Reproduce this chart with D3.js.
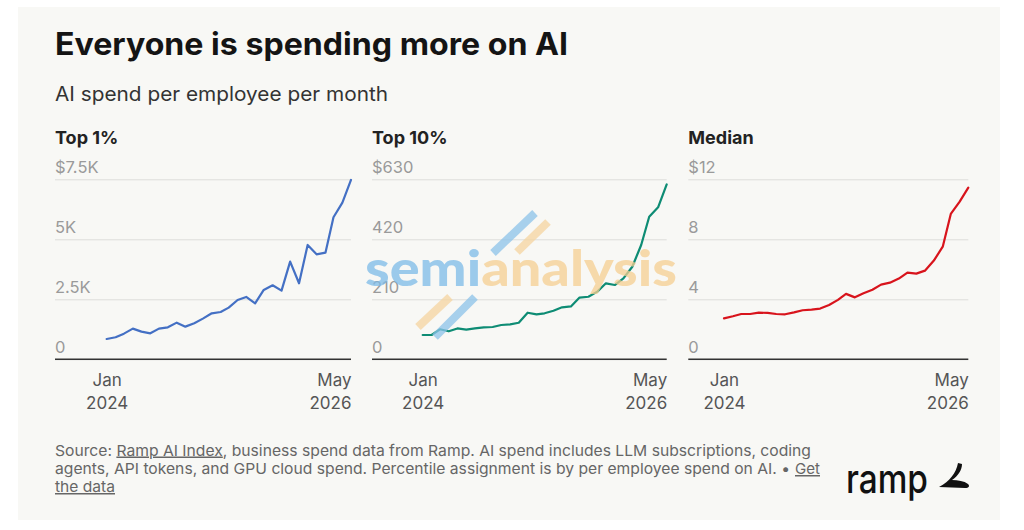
<!DOCTYPE html>
<html>
<head>
<meta charset="utf-8">
<script src="https://cdn.jsdelivr.net/npm/d3@7"></script>
<style>
  html, body { margin: 0; padding: 0; background: #ffffff; }
  svg { display: block; font-family: Inter, "Noto Sans", sans-serif; }
</style>
</head>
<body>
<svg id="chart" width="1024" height="530"></svg>
<script>
// ---------- DATA ----------
const startMonth = new Date(2024, 0, 1);
const endMonth = new Date(2026, 4, 1);
const months = d3.timeMonth.range(startMonth, d3.timeMonth.offset(endMonth, 1)); // Jan 2024 .. May 2026 (29)

const top1Values = [847, 917, 1069, 1278, 1153, 1083, 1278, 1333, 1528, 1361, 1500, 1694, 1917, 1972, 2153,
  2472, 2597, 2333, 2889, 3083, 2861, 4069, 3167, 4764, 4375, 4444, 5917, 6528, 7472];
const top10Values = [85, 85, 105, 98, 108, 104, 108, 112, 113, 120, 122, 128, 163, 157, 161,
  170, 182, 185, 216, 219, 237, 266, 260, 283, 324, 400, 499, 532, 612];
const medianValues = [2.73, 2.87, 3.02, 3.02, 3.11, 3.09, 3.02, 3.00, 3.13, 3.27, 3.31, 3.38, 3.62, 3.96, 4.36,
  4.13, 4.40, 4.64, 4.98, 5.11, 5.38, 5.78, 5.71, 5.91, 6.58, 7.51, 9.69, 10.51, 11.44];

const top1Ticks = [0, 2500, 5000, 7500];
const top1TickLabels = ["0", "2.5K", "5K", "$7.5K"];
const top10Ticks = [0, 210, 420, 630];
const top10TickLabels = ["0", "210", "420", "$630"];
const medianTicks = [0, 4, 8, 12];
const medianTickLabels = ["0", "4", "8", "$12"];

const panelTitles = ["Top 1%", "Top 10%", "Median"];
const xStartLabel = ["Jan", "2024"];
const xEndLabel = ["May", "2026"];

// ---------- LAYOUT ----------
const svg = d3.select("#chart");
svg.append("rect").attr("x", 18).attr("y", 7).attr("width", 982).attr("height", 513).attr("fill", "#f8f8f5");

svg.append("text").attr("x", 55).attr("y", 54.5)
  .attr("font-size", 31).attr("font-weight", 700).attr("fill", "#141414")
  .attr("textLength", 513).attr("lengthAdjust", "spacingAndGlyphs")
  .text("Everyone is spending more on AI");

svg.append("text").attr("x", 55).attr("y", 101)
  .attr("font-size", 19.5).attr("font-weight", 400).attr("fill", "#333")
  .attr("textLength", 333).attr("lengthAdjust", "spacingAndGlyphs")
  .text("AI spend per employee per month");

const yTop = 179.3, yBottom = 359.3;

const panels = [
  { title: panelTitles[0], values: top1Values, ticks: top1Ticks, labels: top1TickLabels, color: "#4470c4",
    left: 55, right: 351, x0: 106.7 },
  { title: panelTitles[1], values: top10Values, ticks: top10Ticks, labels: top10TickLabels, color: "#0e8c74",
    left: 372, right: 666.7, x0: 422.7 },
  { title: panelTitles[2], values: medianValues, ticks: medianTicks, labels: medianTickLabels, color: "#d8141c",
    left: 688.3, right: 968.3, x0: 724 }
];

panels.forEach(p => {
  const g = svg.append("g");
  const x = d3.scaleTime().domain([months[0], months[months.length - 1]]).range([p.x0, p.right]);
  const y = d3.scaleLinear().domain([0, p.ticks[p.ticks.length - 1]]).range([yBottom, yTop]);
  const width = p.right - p.left;

  g.append("text").attr("x", p.left).attr("y", 144)
    .attr("font-size", 18).attr("font-weight", 700).attr("fill", "#222")
    .text(p.title);

  // y gridlines + labels
  const yAxis = d3.axisRight(y).tickValues(p.ticks).tickSize(width)
    .tickFormat((d, i) => p.labels[i]);
  const ya = g.append("g").attr("transform", `translate(${p.left},0)`).call(yAxis);
  ya.select(".domain").remove();
  ya.selectAll(".tick line").attr("stroke", "#dddddb").attr("stroke-width", 1);
  ya.selectAll(".tick text").attr("x", 0).attr("dy", -6.5).attr("text-anchor", "start")
    .attr("font-size", 16.5).attr("fill", "#9a9a9a").attr("font-family", "Inter, 'Noto Sans', sans-serif");

  // baseline
  g.append("line").attr("x1", p.left).attr("x2", p.right).attr("y1", y(0)).attr("y2", y(0))
    .attr("stroke", "#333").attr("stroke-width", 1.5);

  // x axis labels
  const xAxis = d3.axisBottom(x).tickValues([months[0], months[months.length - 1]]).tickSize(0)
    .tickFormat((d, i) => i === 0 ? xStartLabel[0] : xEndLabel[0]);
  const xa = g.append("g").attr("transform", `translate(0,${yBottom})`).call(xAxis);
  xa.select(".domain").remove();
  xa.selectAll(".tick text").each(function(d, i) {
    const t = d3.select(this);
    const lab = i === 0 ? xStartLabel : xEndLabel;
    t.text(null).attr("y", 0).attr("dy", 0)
      .attr("font-size", 17).attr("fill", "#555").attr("font-family", "Inter, 'Noto Sans', sans-serif")
      .attr("text-anchor", i === 0 ? "middle" : "end");
    t.append("tspan").attr("x", 0).attr("y", 26.5).text(lab[0]);
    t.append("tspan").attr("x", 0).attr("y", 49.5).text(lab[1]);
  });

  const line = d3.line().x((d, i) => x(months[i])).y(d => y(d));
  g.append("path").datum(p.values).attr("d", line)
    .attr("fill", "none").attr("stroke", p.color).attr("stroke-width", 2.2)
    .attr("stroke-linejoin", "round").attr("stroke-linecap", "round");
});

// ---------- watermark ----------
const wm = svg.append("g").attr("opacity", 0.75);
const stripes = [
  { x1: 493, y1: 253, x2: 535, y2: 213, c: "#8cc3ea" },
  { x1: 517, y1: 252, x2: 548, y2: 222, c: "#f6d5a0" },
  { x1: 418, y1: 327, x2: 450, y2: 297, c: "#f6d5a0" },
  { x1: 435, y1: 337, x2: 475, y2: 297, c: "#8cc3ea" }
];
wm.selectAll("line.stripe").data(stripes).join("line")
  .attr("x1", d => d.x1).attr("y1", d => d.y1).attr("x2", d => d.x2).attr("y2", d => d.y2)
  .attr("stroke", d => d.c).attr("stroke-width", 8);
const wt = wm.append("text").attr("x", 365).attr("y", 286)
  .attr("font-family", "Lato, 'Open Sans', sans-serif").attr("font-weight", 900).attr("font-size", 50)
  .attr("textLength", 312).attr("lengthAdjust", "spacingAndGlyphs");
wt.append("tspan").attr("fill", "#7dbbe8").text("semi");
wt.append("tspan").attr("fill", "#f6cf92").text("analysis");

// ---------- footer ----------
const foot = svg.append("g").attr("font-size", 15).attr("fill", "#666");
const l1 = foot.append("text").attr("x", 55).attr("y", 455.5).attr("textLength", 756).attr("lengthAdjust", "spacingAndGlyphs");
l1.append("tspan").text("Source: ");
l1.append("tspan").attr("text-decoration", "underline").text("Ramp AI Index");
l1.append("tspan").text(", business spend data from Ramp. AI spend includes LLM subscriptions, coding");
foot.append("text").attr("x", 55).attr("y", 474).attr("textLength", 735).attr("lengthAdjust", "spacingAndGlyphs")
  .text("agents, API tokens, and GPU cloud spend. Percentile assignment is by per employee spend on AI. \u2022");
foot.append("text").attr("x", 795).attr("y", 474).attr("text-decoration", "underline")
  .attr("textLength", 25).attr("lengthAdjust", "spacingAndGlyphs").text("Get");
foot.append("text").attr("x", 55).attr("y", 492).attr("text-decoration", "underline")
  .attr("textLength", 60).attr("lengthAdjust", "spacingAndGlyphs").text("the data");

// ramp logo
svg.append("text").attr("x", 846).attr("y", 493).attr("font-size", 40).attr("font-weight", 500)
  .attr("fill", "#111").attr("textLength", 82).attr("lengthAdjust", "spacingAndGlyphs").text("ramp");
svg.append("path")
  .attr("d", "M958,463 C956,473 950,481 939,487 L965,488 C969,488 970,486 968,484 C964,481 958,480 952,480 C958,476 962,470 962,464 Z")
  .attr("fill", "#111");
</script>
</body>
</html>
